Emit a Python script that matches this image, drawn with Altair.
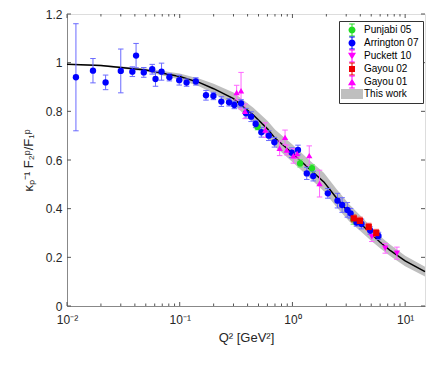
import altair as alt
import pandas as pd

# ---------------- data ----------------
# Arrington 07 (blue circles)
arr_q2 = [0.012, 0.017, 0.022, 0.030, 0.038, 0.041, 0.048, 0.057, 0.061, 0.069,
          0.081, 0.099, 0.115, 0.139, 0.171, 0.199, 0.234, 0.274, 0.305, 0.35,
          0.387, 0.43, 0.472, 0.53, 0.617, 0.692, 0.986, 1.12, 1.34, 1.53,
          2.06, 2.51, 2.76, 3.07, 3.28, 3.7, 4.1, 4.9, 5.8]
arr_y = [0.94, 0.967, 0.919, 0.966, 0.963, 1.029, 0.96, 0.973, 0.933, 0.963,
         0.94, 0.928, 0.918, 0.923, 0.866, 0.863, 0.84, 0.837, 0.826, 0.833,
         0.792, 0.778, 0.748, 0.714, 0.70, 0.673, 0.63, 0.641, 0.545, 0.534,
         0.463, 0.433, 0.415, 0.395, 0.381, 0.343, 0.337, 0.31, 0.288]
arr_e = [0.22, 0.05, 0.03, 0.09, 0.02, 0.05, 0.02, 0.02, 0.03, 0.035,
         0.015, 0.02, 0.015, 0.015, 0.02, 0.015, 0.02, 0.015, 0.015, 0.015,
         0.02, 0.02, 0.015, 0.02, 0.02, 0.02, 0.02, 0.02, 0.025, 0.02,
         0.02, 0.03, 0.03, 0.03, 0.02, 0.015, 0.02, 0.015, 0.015]

# Punjabi 05 (green circles)
pun_q2 = [0.49, 1.17, 1.49, 3.47]
pun_y = [0.736, 0.586, 0.566, 0.356]
pun_e = [0.012, 0.015, 0.015, 0.02]

# Puckett 10 (magenta down triangles)
puc_q2 = [5.06, 6.66, 8.45]
puc_y = [0.285, 0.237, 0.217]
puc_e = [0.02, 0.02, 0.025]

# Gayou 02 (red squares)
gay2_q2 = [3.5, 3.97, 4.75, 5.54]
gay2_y = [0.36, 0.35, 0.325, 0.30]
gay2_e = [0.015, 0.015, 0.015, 0.015]

# Gayou 01 (magenta up triangles)
gay1_q2 = [0.32, 0.35, 0.38, 0.575, 0.77, 0.86, 0.89, 1.02, 1.1, 1.41, 1.74]
gay1_y = [0.877, 0.885, 0.80, 0.723, 0.648, 0.693, 0.641, 0.617, 0.627, 0.618, 0.503]
gay1_e = [0.03, 0.075, 0.03, 0.03, 0.03, 0.03, 0.02, 0.03, 0.02, 0.04, 0.055]

# This work (curve and band)
fit_q2 = [0.01, 0.02, 0.05, 0.1, 0.15, 0.2, 0.3, 0.45, 0.6, 0.7, 1.0, 1.4, 1.9,
          2.5, 3.2, 4.0, 4.9, 6.0, 7.3, 10, 15]
fit_y = [0.993, 0.988, 0.970, 0.943, 0.918, 0.893, 0.852, 0.785, 0.728, 0.69,
         0.628, 0.565, 0.51, 0.44, 0.382, 0.34, 0.30, 0.262, 0.23, 0.185, 0.141]
fit_lo = [0.991, 0.985, 0.964, 0.931, 0.902, 0.873, 0.827, 0.755, 0.695, 0.655,
          0.592, 0.529, 0.472, 0.403, 0.347, 0.308, 0.271, 0.237, 0.206, 0.163, 0.121]
fit_hi = [0.995, 0.991, 0.976, 0.955, 0.934, 0.913, 0.877, 0.815, 0.761, 0.725,
          0.664, 0.601, 0.548, 0.477, 0.417, 0.372, 0.329, 0.287, 0.254, 0.207, 0.161]

series_names = ["Punjabi 05", "Arrington 07", "Puckett 10", "Gayou 02", "Gayou 01"]
legend_names = series_names + ["This work"]

x_major = [0.01, 0.1, 1, 10]
x_minor = [k * d for d in [0.01, 0.1, 1, 10] for k in range(2, 10) if k * d <= 15]
y_major = [0, 0.2, 0.4, 0.6, 0.8, 1.0, 1.2]

# ---------------- styles ----------------
marker_colors = ["#22dd22", "#0000ff", "#ff00ff", "#ee0000", "#ff00ff"]
err_colors = ["#66ee66", "#6a6aff", "#ff66ff", "#ff5555", "#ff66ff"]
shapes = ["circle", "circle", "triangle-down", "square", "triangle-up"]
band_color = "#bfbfbf"
axis_color = "#555555"
text_color = "#262626"
FONT = "Liberation Sans"

W, H = 358, 292


def frame(name, q, y, e):
    return pd.DataFrame({"series": name, "Q2": q, "y": y,
                         "lo": [a - b for a, b in zip(y, e)],
                         "hi": [a + b for a, b in zip(y, e)]})


pts = pd.concat([
    frame("Punjabi 05", pun_q2, pun_y, pun_e),
    frame("Arrington 07", arr_q2, arr_y, arr_e),
    frame("Puckett 10", puc_q2, puc_y, puc_e),
    frame("Gayou 02", gay2_q2, gay2_y, gay2_e),
    frame("Gayou 01", gay1_q2, gay1_y, gay1_e),
], ignore_index=True)

fit = pd.DataFrame({"Q2": fit_q2, "y": fit_y, "lo": fit_lo, "hi": fit_hi})

xscale = alt.Scale(type="log", domain=[0.01, 15], nice=False)
yscale = alt.Scale(domain=[0, 1.2], nice=False, zero=False)

xaxis = alt.Axis(
    values=x_major, ticks=False, grid=False, title="Q² [GeV²]",
    labelExpr="datum.value < 0.05 ? '10⁻²' : datum.value < 0.5 ? '10⁻¹' : datum.value < 5 ? '10⁰' : '10¹'",
    labelFontSize=12, labelPadding=8, titleFontSize=13, titlePadding=6,
    titleFontWeight="normal", labelFlush=False, labelFont=FONT, titleFont=FONT,
    labelColor=text_color, titleColor=text_color,
)
yaxis = alt.Axis(
    values=y_major, ticks=False, grid=False, format="~g",
    title="κₚ⁻¹ F₂ᵖ/F₁ᵖ", labelFontSize=12, labelPadding=5,
    titleFontSize=13, titlePadding=10, titleFontWeight="normal",
    labelFont=FONT, titleFont=FONT, labelColor=text_color, titleColor=text_color,
)


def X(field="Q2"):
    return alt.X(field, type="quantitative", scale=xscale, axis=xaxis)


def Y(field="y"):
    return alt.Y(field, type="quantitative", scale=yscale, axis=yaxis)


base = alt.Chart(pts)

band = alt.Chart(fit).mark_area(color=band_color, opacity=1).encode(
    x=X(), y=Y("lo"), y2="hi")
line = alt.Chart(fit).mark_line(color="black", strokeWidth=1.5).encode(
    x=X(), y=Y())

err_color = alt.Color("series:N", scale=alt.Scale(domain=series_names, range=err_colors), legend=None)
mk_color = alt.Color("series:N", scale=alt.Scale(domain=series_names, range=marker_colors), legend=None)

err = base.mark_rule(strokeWidth=1).encode(x=X(), y=Y("lo"), y2="hi", color=err_color)
cap_lo = base.mark_point(shape="M-1,0L1,0", size=30, filled=False, strokeWidth=1, opacity=1).encode(
    x=X(), y=Y("lo"), color=err_color)
cap_hi = base.mark_point(shape="M-1,0L1,0", size=30, filled=False, strokeWidth=1, opacity=1).encode(
    x=X(), y=Y("hi"), color=err_color)
points = base.mark_point(filled=True, size=40, opacity=1, strokeWidth=0).encode(
    x=X(), y=Y(),
    color=mk_color,
    shape=alt.Shape("series:N", scale=alt.Scale(domain=series_names, range=shapes), legend=None),
)

# legend (symbols drawn as small paths with error bars; 1 unit = 5 px)
circ = "M0.7,0A0.7,0.7 0 1,1 -0.7,0A0.7,0.7 0 1,1 0.7,0Z"
ebar = ("M-0.1,-1.2L0.1,-1.2L0.1,1.2L-0.1,1.2Z"
        "M-0.55,-1.3L0.55,-1.3L0.55,-1.1L-0.55,-1.1Z"
        "M-0.55,1.1L0.55,1.1L0.55,1.3L-0.55,1.3Z")
tri_dn = "M-0.8,-0.65L0.8,-0.65L0,0.72Z"
tri_up = "M0,-0.72L0.8,0.65L-0.8,0.65Z"
sq = "M-0.6,-0.6L0.6,-0.6L0.6,0.6L-0.6,0.6Z"
rect = "M-2.2,-1L2.2,-1L2.2,1L-2.2,1Z"
legend_shapes = [circ + ebar, circ + ebar, tri_dn + ebar, sq + ebar, tri_up + ebar, rect]
legend_colors = marker_colors + [band_color]

leg_df = pd.DataFrame({"name": legend_names, "Q2": 0.02, "y": -1.0})
legend_layer = alt.Chart(leg_df).mark_point(filled=True, size=100, clip=True, strokeWidth=0, opacity=1).encode(
    x=X(), y=Y(),
    color=alt.Color("name:N", scale=alt.Scale(domain=legend_names, range=legend_colors),
                    legend=alt.Legend(title=None, orient="none", legendX=272, legendY=7,
                                      symbolSize=100, symbolStrokeWidth=0,
                                      labelFontSize=10, labelFont=FONT, labelColor="black",
                                      padding=4, symbolOffset=4, labelOffset=7, rowPadding=-1,
                                      fillColor="white", strokeColor="#333333",
                                      symbolOpacity=1, labelLimit=200)),
    shape=alt.Shape("name:N", scale=alt.Scale(domain=legend_names, range=legend_shapes)),
)

# inward ticks (MATLAB style)
tx_major = pd.DataFrame({"Q2": x_major})
tx_minor = pd.DataFrame({"Q2": x_minor})
ty = pd.DataFrame({"y": y_major})
tick_style = dict(color=axis_color, strokeWidth=1)
ticks = [
    alt.Chart(tx_major).mark_rule(**tick_style).encode(x=X(), y=alt.value(H), y2=alt.value(H - 4)),
    alt.Chart(tx_major).mark_rule(**tick_style).encode(x=X(), y=alt.value(0), y2=alt.value(4)),
    alt.Chart(tx_minor).mark_rule(**tick_style).encode(x=X(), y=alt.value(H), y2=alt.value(H - 2.5)),
    alt.Chart(tx_minor).mark_rule(**tick_style).encode(x=X(), y=alt.value(0), y2=alt.value(2.5)),
    alt.Chart(ty).mark_rule(**tick_style).encode(y=Y(), x=alt.value(0), x2=alt.value(4)),
    alt.Chart(ty).mark_rule(**tick_style).encode(y=Y(), x=alt.value(W), x2=alt.value(W - 4)),
]

chart = alt.layer(
    band, line, err, cap_lo, cap_hi, points, *ticks, legend_layer
).resolve_scale(
    color="independent", shape="independent"
).properties(
    width=W, height=H,
    autosize=alt.AutoSizeParams(type="none"),
    padding={"left": 59, "top": 6, "right": 3, "bottom": 54},
).configure_view(
    stroke=axis_color, strokeWidth=1.2
).configure_axis(
    domainColor=axis_color, domainWidth=1.2, labelColor=text_color, titleColor=text_color,
    labelFont=FONT, titleFont=FONT, titleFontWeight="normal",
).configure_legend(
    symbolOpacity=1
).configure(background="white")

chart.save("out.html", embed_options={"renderer": "svg", "actions": False})
